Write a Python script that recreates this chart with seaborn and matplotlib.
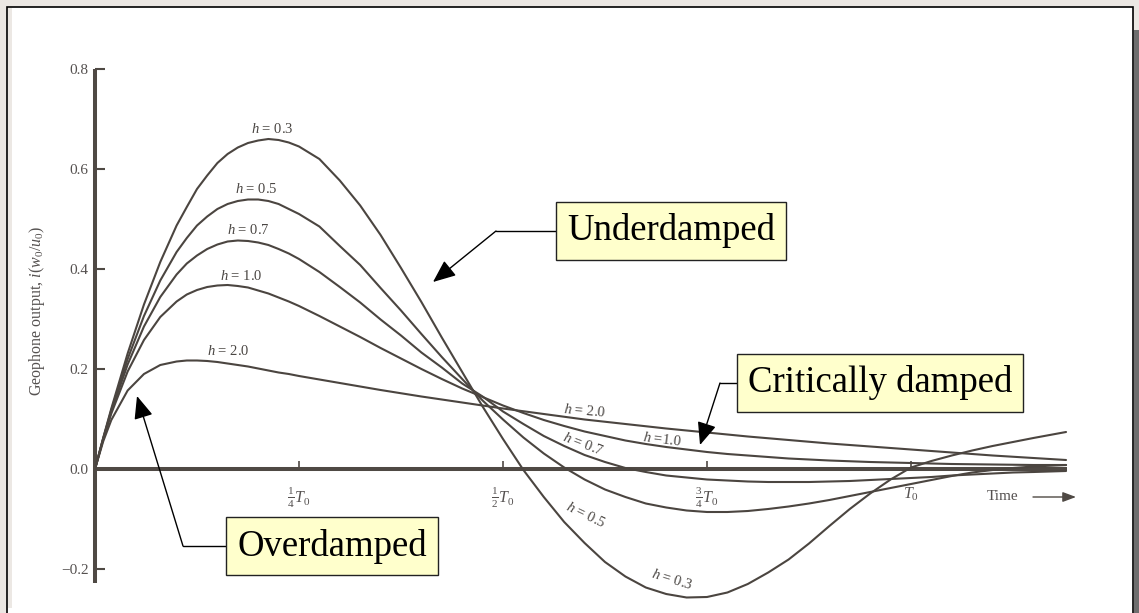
import numpy as np
import pandas as pd
import matplotlib
matplotlib.use("Agg")
import matplotlib.pyplot as plt
import seaborn as sns
from matplotlib.patches import Rectangle
from matplotlib.lines import Line2D

# ---------------- data (time in units of T0) ----------------
time_T0 = [0.0, 0.01, 0.02, 0.04, 0.06, 0.08, 0.10, 0.1125, 0.125, 0.1375, 0.15, 0.1625,
           0.175, 0.1875, 0.20, 0.2125, 0.225, 0.2375, 0.25,
           0.275, 0.30, 0.325, 0.35, 0.375, 0.40, 0.425, 0.45, 0.475, 0.50,
           0.525, 0.55, 0.575, 0.60, 0.625, 0.65, 0.675, 0.70, 0.725, 0.75,
           0.775, 0.80, 0.825, 0.85, 0.875, 0.90, 0.925, 0.95, 0.975, 1.00,
           1.025, 1.05, 1.075, 1.10, 1.125, 1.15, 1.19]
h_levels = ["0.3", "0.5", "0.7", "1.0", "2.0"]
resp_h03 = [0.0, 0.062, 0.121, 0.231, 0.329, 0.414, 0.487, 0.524, 0.560, 0.587, 0.612, 0.630,
            0.643, 0.652, 0.657, 0.660, 0.658, 0.653, 0.645,
            0.620, 0.577, 0.527, 0.468, 0.402, 0.334, 0.263, 0.194, 0.125, 0.060,
            -0.002, -0.056, -0.106, -0.148, -0.186, -0.215, -0.237, -0.250, -0.257, -0.256,
            -0.247, -0.230, -0.207, -0.181, -0.149, -0.114, -0.080, -0.049, -0.021, 0.003,
            0.016, 0.027, 0.037, 0.046, 0.054, 0.062, 0.074]
resp_h05 = [0.0, 0.061, 0.118, 0.220, 0.306, 0.377, 0.434, 0.462, 0.487, 0.505, 0.520, 0.530,
            0.536, 0.539, 0.539, 0.536, 0.530, 0.520, 0.510,
            0.485, 0.446, 0.408, 0.362, 0.317, 0.270, 0.224, 0.180, 0.137, 0.099,
            0.063, 0.031, 0.003, -0.021, -0.041, -0.056, -0.069, -0.077, -0.083, -0.086,
            -0.086, -0.084, -0.080, -0.075, -0.069, -0.062, -0.054, -0.046, -0.038, -0.030,
            -0.022, -0.014, -0.007, -0.002, 0.002, 0.005, 0.008]
resp_h07 = [0.0, 0.060, 0.115, 0.209, 0.285, 0.344, 0.389, 0.411, 0.427, 0.440, 0.449, 0.455,
            0.457, 0.456, 0.453, 0.448, 0.440, 0.431, 0.420,
            0.394, 0.364, 0.333, 0.299, 0.267, 0.233, 0.203, 0.171, 0.145, 0.115,
            0.090, 0.066, 0.046, 0.028, 0.014, 0.002, -0.006, -0.013, -0.017, -0.021,
            -0.023, -0.025, -0.026, -0.026, -0.026, -0.025, -0.024, -0.022, -0.020, -0.018,
            -0.016, -0.013, -0.011, -0.009, -0.007, -0.006, -0.004]
resp_h10 = [0.0, 0.059, 0.111, 0.195, 0.258, 0.304, 0.335, 0.349, 0.358, 0.364, 0.367, 0.368,
            0.366, 0.363, 0.357, 0.351, 0.343, 0.335, 0.326,
            0.306, 0.285, 0.264, 0.242, 0.221, 0.200, 0.180, 0.161, 0.144, 0.127,
            0.112, 0.098, 0.086, 0.075, 0.066, 0.057, 0.050, 0.044, 0.039, 0.034,
            0.030, 0.027, 0.024, 0.021, 0.019, 0.017, 0.0155, 0.014, 0.013, 0.012,
            0.011, 0.010, 0.0095, 0.009, 0.0085, 0.008, 0.008]
resp_h20 = [0.0, 0.055, 0.098, 0.157, 0.190, 0.208, 0.215, 0.217, 0.217, 0.216, 0.214, 0.211,
            0.208, 0.205, 0.201, 0.197, 0.193, 0.190, 0.186,
            0.179, 0.172, 0.165, 0.158, 0.1515, 0.145, 0.139, 0.133, 0.127, 0.121,
            0.1155, 0.110, 0.1045, 0.099, 0.0945, 0.090, 0.0855, 0.081, 0.077, 0.073,
            0.069, 0.065, 0.0615, 0.058, 0.0545, 0.051, 0.048, 0.045, 0.042, 0.039,
            0.036, 0.033, 0.030, 0.027, 0.0245, 0.022, 0.018]

y_ticks = [-0.2, 0.0, 0.2, 0.4, 0.6, 0.8]
y_tick_labels = ["\u22120.2", "0.0", "0.2", "0.4", "0.6", "0.8"]
x_ticks = [0.25, 0.5, 0.75, 1.0]
x_tick_labels = [r"$\frac{1}{4}T_0$", r"$\frac{1}{2}T_0$", r"$\frac{3}{4}T_0$", r"$T_0$"]
y_label = r"Geophone output, $i(w_0/u_0)$"
x_label = "Time"
box_texts = ["Underdamped", "Critically damped", "Overdamped"]

df = pd.concat([
    pd.DataFrame({"t": time_T0, "v": vals, "h": lvl})
    for lvl, vals in zip(h_levels, [resp_h03, resp_h05, resp_h07, resp_h10, resp_h20])
], ignore_index=True)

# ---------------- style ----------------
sns.set_theme(style="white")
plt.rcParams["font.family"] = ["Liberation Serif", "DejaVu Serif"]
plt.rcParams["mathtext.fontset"] = "custom"
plt.rcParams["mathtext.rm"] = "Liberation Serif"
plt.rcParams["mathtext.it"] = "Liberation Serif:italic"
plt.rcParams["mathtext.bf"] = "Liberation Serif:bold"

W, H = 1139, 613
def fx(x):
    return x / W
def fy(y):
    return 1 - y / H

curve_col = "#4b4540"
axis_col = "#4f4944"
text_col = "#555150"

fig = plt.figure(figsize=(W / 100, H / 100), dpi=100, facecolor="#ebe7e3")

# frame / page
fig.patches.append(Rectangle((fx(1134), -0.01), fx(5) + 0.01, fy(30) + 0.01, transform=fig.transFigure,
                             facecolor="#6e6e6e", edgecolor="none", zorder=0))
fig.patches.append(Rectangle((fx(7), -0.02), fx(1126), fy(7) + 0.02, transform=fig.transFigure,
                             facecolor="white", edgecolor="black", linewidth=1.2, zorder=0))
fig.patches.append(Rectangle((fx(8), fy(608)), fx(4), fy(8) - fy(608), transform=fig.transFigure,
                             facecolor="#ece8e4", edgecolor="none", zorder=0))

# axes: data x=0 at px 95, 816 px per T0; v=0 at py 469, 500 px per unit
ax = fig.add_axes([fx(95), 1 - 600 / H, 1000 / W, 550 / H])
ax.set_zorder(2)
ax.patch.set_alpha(0)

sns.lineplot(data=df, x="t", y="v", hue="h", palette={l: curve_col for l in h_levels},
             estimator=None, sort=False, legend=False, linewidth=1.5, ax=ax)

ax.set_xlim(0, 1000 / 816)
ax.set_ylim((469 - 600) / 500, (469 - 50) / 500)
ax.set_xlabel("")
ax.set_ylabel("")

for s in ["top", "right"]:
    ax.spines[s].set_visible(False)
ax.spines["left"].set_position(("data", 0))
ax.spines["bottom"].set_position(("data", 0))
ax.spines["left"].set_bounds(-0.228, 0.8)
ax.spines["bottom"].set_bounds(0, 1.191)
for s in ["left", "bottom"]:
    ax.spines[s].set_color(axis_col)
    ax.spines[s].set_linewidth(2.9)
    ax.spines[s].set_capstyle("butt")
    ax.spines[s].set_zorder(1)

ax.set_yticks(y_ticks, y_tick_labels)
ax.set_xticks(x_ticks, x_tick_labels)
ax.tick_params(axis="y", direction="in", length=7.5, width=1.5, color=axis_col,
               labelcolor=text_col, labelsize=11, pad=4.5, left=True)
ax.tick_params(axis="x", direction="in", length=6, width=1.2, color=axis_col,
               labelcolor=text_col, labelsize=11.5, pad=12, bottom=True)

# y label
fig.text(fx(37), fy(311), y_label, rotation=90, ha="center", va="center",
         fontsize=11.5, color=text_col)

# Time label + arrow
fig.text(fx(987), fy(497), x_label, ha="left", va="center", fontsize=11, color=text_col)
ax.annotate("", xy=(1076, H - 497), xytext=(1033, H - 497), xycoords="figure pixels",
            textcoords="figure pixels",
            arrowprops=dict(arrowstyle="-|>,head_length=0.8,head_width=0.3", color=axis_col,
                            lw=1.0, mutation_scale=10, shrinkA=0, shrinkB=0))

# curve labels (centre px, rotation)
curve_labels = [
    ("0.3", 272, 129, 0), ("0.5", 256, 189, 0), ("0.7", 248, 230, 0),
    ("1.0", 241, 276, 0), ("2.0", 228, 351, 0),
    ("2.0", 585, 411, -5), ("1.0", 662, 439, -7), ("0.7", 583, 444, -21),
    ("0.5", 586, 515, -26), ("0.3", 672, 579, -17),
]
for lvl, x, y, rot in curve_labels:
    sep = " =" if (lvl == "1.0" and rot != 0) else " = "
    fig.text(fx(x), fy(y), r"$h$" + sep + lvl, ha="center", va="center", rotation=rot,
             rotation_mode="anchor", fontsize=10.5, color="#4a4643", zorder=3)

# annotation boxes with arrows
boxes = [
    (box_texts[0], 671, 231, [(557, 231), (496, 231)], (433, 282)),
    (box_texts[1], 880, 383, [(738, 383), (720, 383)], (700, 445)),
    (box_texts[2], 332, 546, [(228, 546), (183, 546)], (137, 396)),
]
for txt, cx, cy, pts, tip in boxes:
    fig.text(fx(cx), fy(cy), txt, ha="center", va="center", fontsize=26.5, color="black",
             zorder=5,
             bbox=dict(boxstyle="square,pad=0.3", facecolor="#ffffcc", edgecolor="#222222",
                       linewidth=1.0))
    fig.lines.append(Line2D([fx(p[0]) for p in pts], [fy(p[1]) for p in pts],
                            transform=fig.transFigure, color="black", linewidth=1.0, zorder=4))
    ax.annotate("", xy=(tip[0], H - tip[1]), xytext=(pts[-1][0], H - pts[-1][1]),
                xycoords="figure pixels", textcoords="figure pixels",
                arrowprops=dict(arrowstyle="-|>,head_length=1.0,head_width=0.42",
                                color="black", lw=1.0, mutation_scale=14,
                                shrinkA=0, shrinkB=0))

fig.savefig("out.png", dpi=100, facecolor=fig.get_facecolor())
